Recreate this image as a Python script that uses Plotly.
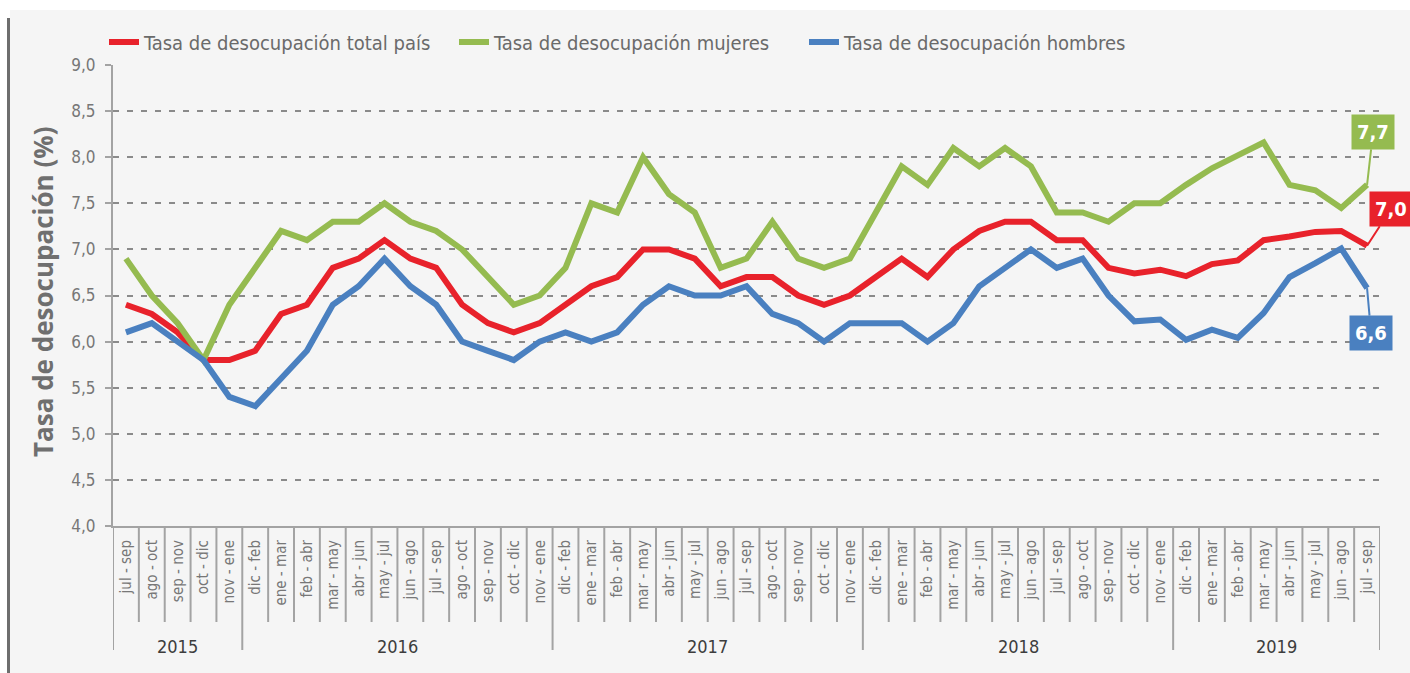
import plotly.graph_objects as go

# ---------------- data ----------------
years = ["2015", "2016", "2017", "2018", "2019"]
group_sizes = [5, 12, 12, 12, 8]

cycle = ["dic - feb", "ene - mar", "feb - abr", "mar - may", "abr - jun", "may - jul",
         "jun - ago", "jul - sep", "ago - oct", "sep - nov", "oct - dic", "nov - ene"]
periods = (["jul - sep", "ago - oct", "sep - nov", "oct - dic", "nov - ene"]
           + cycle + cycle + cycle
           + ["dic - feb", "ene - mar", "feb - abr", "mar - may", "abr - jun",
              "may - jul", "jun - ago", "jul - sep"])

total = [6.4, 6.3, 6.1, 5.8, 5.8, 5.9, 6.3, 6.4, 6.8, 6.9, 7.1, 6.9, 6.8, 6.4, 6.2, 6.1, 6.2,
         6.4, 6.6, 6.7, 7.0, 7.0, 6.9, 6.6, 6.7, 6.7, 6.5, 6.4, 6.5,
         6.7, 6.9, 6.7, 7.0, 7.2, 7.3, 7.3, 7.1, 7.1, 6.8, 6.74, 6.78,
         6.71, 6.84, 6.88, 7.10, 7.14, 7.19, 7.20, 7.04]
mujeres = [6.9, 6.5, 6.2, 5.8, 6.4, 6.8, 7.2, 7.1, 7.3, 7.3, 7.5, 7.3, 7.2, 7.0, 6.7, 6.4, 6.5,
           6.8, 7.5, 7.4, 8.0, 7.6, 7.4, 6.8, 6.9, 7.3, 6.9, 6.8, 6.9,
           7.4, 7.9, 7.7, 8.1, 7.9, 8.1, 7.9, 7.4, 7.4, 7.3, 7.5, 7.5,
           7.7, 7.88, 8.02, 8.16, 7.7, 7.64, 7.45, 7.7]
hombres = [6.1, 6.2, 6.0, 5.8, 5.4, 5.3, 5.6, 5.9, 6.4, 6.6, 6.9, 6.6, 6.4, 6.0, 5.9, 5.8, 6.0,
           6.1, 6.0, 6.1, 6.4, 6.6, 6.5, 6.5, 6.6, 6.3, 6.2, 6.0, 6.2,
           6.2, 6.2, 6.0, 6.2, 6.6, 6.8, 7.0, 6.8, 6.9, 6.5, 6.22, 6.24,
           6.02, 6.13, 6.04, 6.31, 6.70, 6.85, 7.01, 6.58]

series_names = ["Tasa de desocupación total país", "Tasa de desocupación mujeres",
                "Tasa de desocupación hombres"]
y_ticks = [4.0, 4.5, 5.0, 5.5, 6.0, 6.5, 7.0, 7.5, 8.0, 8.5, 9.0]

# ---------------- style ----------------
RED, GREEN, BLUE = "#e8222b", "#95bb50", "#4a80c0"
NARROW = "Liberation Sans Narrow, DejaVu Sans Condensed, Arial Narrow, sans-serif"
GRID = "#8a8a8a"
AXIS = "#a3a3a3"

W, H = 1410, 673
ML, MR, MT, MB = 113, 30, 65, 147
PW, PH = W - ML - MR, H - MT - MB


def px_x(x):
    return (x - ML) / PW


def px_y(y):
    return (H - MB - y) / PH


x_idx = list(range(len(periods)))

fig = go.Figure()
for name, vals, col in zip(series_names, [total, mujeres, hombres], [RED, GREEN, BLUE]):
    fig.add_trace(go.Scatter(x=x_idx, y=vals, mode="lines", name=name,
                             line=dict(color=col, width=6), cliponaxis=False))

shapes = []
# background panel and left border
shapes.append(dict(type="rect", xref="paper", yref="paper", layer="below",
                   x0=px_x(10), x1=px_x(W + 5), y0=px_y(H + 5), y1=px_y(10),
                   fillcolor="#f5f5f5", line=dict(width=0)))
shapes.append(dict(type="line", xref="paper", yref="paper",
                   x0=px_x(8.5), x1=px_x(8.5), y0=px_y(H + 5), y1=px_y(18),
                   line=dict(color="#6e6e6e", width=3)))

# category separators and year separators
group_bounds = [0]
for s in group_sizes:
    group_bounds.append(group_bounds[-1] + s)
for b in range(len(periods) + 1):
    long_line = b in group_bounds
    shapes.append(dict(type="line", xref="x", yref="paper",
                       x0=b - 0.5, x1=b - 0.5, y0=0,
                       y1=px_y(650) if long_line else px_y(622),
                       line=dict(color=AXIS, width=2)))

annotations = []
# year labels
for yr, start, size in zip(years, group_bounds[:-1], group_sizes):
    annotations.append(dict(x=start + (size - 1) / 2, y=px_y(646), xref="x", yref="paper",
                            text=yr, showarrow=False, yanchor="middle",
                            font=dict(family=NARROW, size=18, color="#3d3d3d")))
# y-axis title
annotations.append(dict(x=px_x(43), y=px_y(292), xref="paper", yref="paper",
                        text="<b>Tasa de desocupación (%)</b>", textangle=-90,
                        showarrow=False, xanchor="center", yanchor="middle",
                        font=dict(family="Open Sans, sans-serif", size=26, color="#6f6f6f")))
# end-value callouts
for vals, col, ax, ay in [(mujeres, GREEN, 6, -53), (total, RED, 24, -37), (hombres, BLUE, 4, 45)]:
    last = len(vals) - 1
    annotations.append(dict(x=last, y=vals[last], xref="x", yref="y",
                            text="<b>" + f"{vals[last]:.1f}".replace(".", ",") + "</b>",
                            showarrow=True, ax=ax, ay=ay, arrowhead=0, arrowwidth=2,
                            arrowcolor=col, bgcolor=col, borderpad=5,
                            font=dict(family=NARROW, size=20, color="white")))

fig.update_layout(
    width=W, height=H,
    margin=dict(l=ML, r=MR, t=MT, b=MB, autoexpand=False),
    paper_bgcolor="white", plot_bgcolor="#f5f5f5",
    separators=",.",
    showlegend=True,
    legend=dict(orientation="h", x=px_x(104), y=px_y(42), xanchor="left", yanchor="middle",
                font=dict(family=NARROW, size=20, color="#6a6a6a"),
                bgcolor="rgba(0,0,0,0)", entrywidth=305, entrywidthmode="pixels",
                itemwidth=30),
    xaxis=dict(range=[-0.5, len(periods) - 0.5], tickmode="array", tickvals=x_idx,
               ticktext=periods, tickangle=-90, showgrid=False, zeroline=False,
               showline=True, linecolor=AXIS, linewidth=2, ticks="",
               ticklabelstandoff=6,
               tickfont=dict(family=NARROW, size=15, color="#777777")),
    yaxis=dict(range=[4, 9], tickmode="array", tickvals=y_ticks, tickformat=".1f",
               showgrid=True, gridcolor=GRID, gridwidth=2, griddash="6px,8px",
               zeroline=False, showline=True, linecolor=AXIS, linewidth=2,
               ticks="outside", ticklen=6, tickcolor=AXIS, tickwidth=2,
               ticklabelstandoff=6,
               tickfont=dict(family=NARROW, size=17, color="#777777")),
    shapes=shapes, annotations=annotations,
)

fig.write_html("out.html", config={"displayModeBar": False})

# remove the browser's default page margin so the figure sits at the window origin
with open("out.html", encoding="utf-8") as f:
    html = f.read()
html = html.replace("<head>", "<head><style>html,body{margin:0;padding:0;overflow:hidden;}</style>", 1)
with open("out.html", "w", encoding="utf-8") as f:
    f.write(html)
